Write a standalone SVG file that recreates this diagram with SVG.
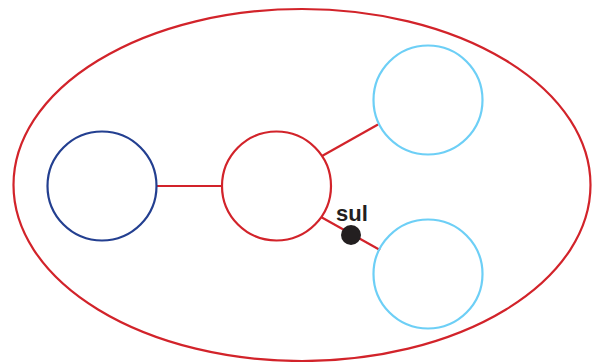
<svg xmlns="http://www.w3.org/2000/svg" width="595" height="362" viewBox="0 0 595 362">
<style>
.n{fill:none;stroke-width:2.2}
.red{stroke:#d2232a}
.dblue{stroke:#233f90}
.lblue{stroke:#6dcff6}
.c{stroke:#d2232a;stroke-width:2.2;fill:none}
.t{font-family:"Liberation Sans",Arial,sans-serif;font-weight:bold;font-size:22px;fill:#231f20}
</style>
<rect width="595" height="362" fill="#ffffff"/>
<g id="outer"><ellipse class="n red" cx="302" cy="185" rx="288.5" ry="176"/></g>
<g id="connectors">
<line class="c" x1="156" y1="186" x2="222" y2="186"/>
<line class="c" x1="322" y1="156" x2="378" y2="124.5"/>
<line class="c" x1="321" y1="217" x2="380" y2="250"/>
<circle cx="351" cy="235" r="10" fill="#231f20"/>
<text class="t" x="336" y="221">sul</text>
</g>
<g id="node-left"><circle class="n dblue" cx="102" cy="186" r="54.5"/></g>
<g id="node-center"><circle class="n red" cx="276.5" cy="186" r="54.5"/></g>
<g id="node-top"><circle class="n lblue" cx="428" cy="100" r="54.5"/></g>
<g id="node-bottom"><circle class="n lblue" cx="428" cy="274" r="54.5"/></g>
</svg>
